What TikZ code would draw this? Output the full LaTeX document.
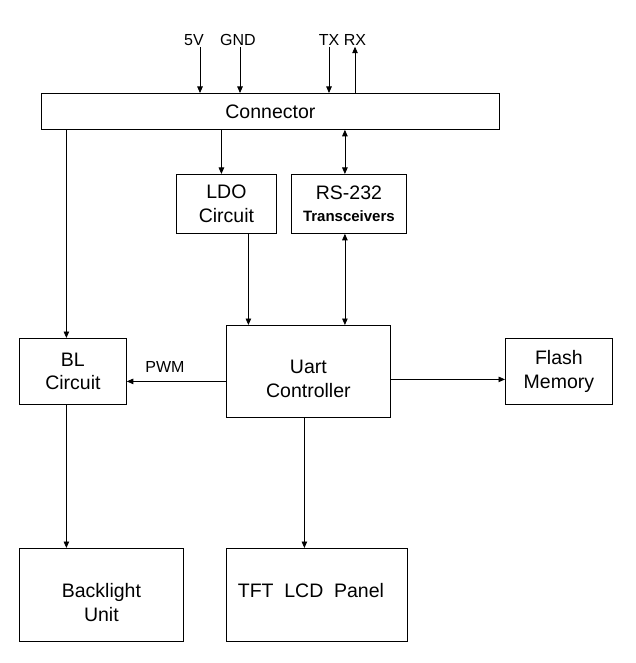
\documentclass[tikz,border=0pt]{standalone}
\usepackage{fontspec}
\setmainfont{Liberation Sans}
\usetikzlibrary{positioning,arrows.meta}

\begin{document}
\begin{tikzpicture}[x=1pt, y=-1pt, >={Triangle[length=6.5pt,width=5.5pt]},
  font=\fontsize{19.5}{23.5}\selectfont,
  blk/.style={draw, line width=0.8pt, inner sep=0pt, align=center, anchor=north west},
  pin/.style={font=\fontsize{16}{18}\selectfont, inner sep=1pt},
  sig/.style={->, line width=0.8pt},
  bus/.style={<->, line width=0.8pt}]
\useasboundingbox (0,0) rectangle (635,663);
% blocks
\node[blk, minimum width=458pt, minimum height=36pt] (conn) at (41,93) {Connector};
\node[blk, minimum width=100pt, minimum height=59pt] (ldo) at (176,174) {LDO\\Circuit};
\node[blk, minimum width=115pt, minimum height=59pt] (rs) at (291,174)
  {RS-232\\[-2pt]{\fontsize{15}{16}\selectfont\bfseries Transceivers}};
\node[blk, minimum width=107pt, minimum height=66pt] (bl) at (19,338) {BL\\Circuit};
\node[blk, minimum width=164pt, minimum height=92pt] (uart) at (226,325) {\\[5pt]Uart\\Controller};
\node[blk, minimum width=107pt, minimum height=66pt] (flash) at (505,338) {Flash\\Memory};
\node[blk, minimum width=164pt, minimum height=93pt] (blu) at (19,548) {\\[6pt]Backlight\\Unit};
\node[blk, minimum width=181pt, minimum height=93pt, align=left, text width=174pt] (tft) at (226,548)
  {\\[-18pt]\hspace*{8pt}TFT\hspace{0.55em}LCD\hspace{0.55em}Panel};
% pins
\node[pin] (v5) at (194,40) {5V};
\node[pin] (gnd) at (238,40) {GND};
\node[pin] (tx) at (329,40) {TX};
\node[pin] (rx) at (355,40) {RX};
\node[pin] (pwm) at (165,367) {PWM};
% connectors
\draw[sig] ([xshift=6pt]v5.south) -- ([xshift=6pt]v5.south |- conn.north);
\draw[sig] ([xshift=2pt]gnd.south) -- ([xshift=2pt]gnd.south |- conn.north);
\draw[sig] (tx.south) -- (tx.south |- conn.north);
\draw[sig] (rx.south |- conn.north) -- (rx.south);
\draw[sig] ([xshift=-5pt]ldo.north |- conn.south) -- ([xshift=-5pt]ldo.north);
\draw[bus] ([xshift=-4pt]rs.north |- conn.south) -- ([xshift=-4pt]rs.north);
\draw[sig] (bl.north |- conn.south) ++(-6.5pt,0) coordinate (c1) -- (c1 |- bl.north);
\draw[sig] ([xshift=-2pt]ldo.south |- ldo.south) ++(24pt,0) coordinate (c2) -- (c2 |- uart.north);
\draw[bus] ([xshift=-4pt]rs.south) -- ([xshift=-4pt]rs.south |- uart.north);
\draw[sig] ([yshift=-10pt]uart.west |- bl.east) -- ([yshift=-10pt]bl.east);
\draw[sig] ([yshift=-8pt]uart.east) -- ([yshift=-8pt]uart.east -| flash.west);
\draw[sig] (c1 |- bl.south) -- (c1 |- blu.north);
\draw[sig] ([xshift=-4pt]uart.south) -- ([xshift=-4pt]uart.south |- tft.north);
\end{tikzpicture}
\end{document}
